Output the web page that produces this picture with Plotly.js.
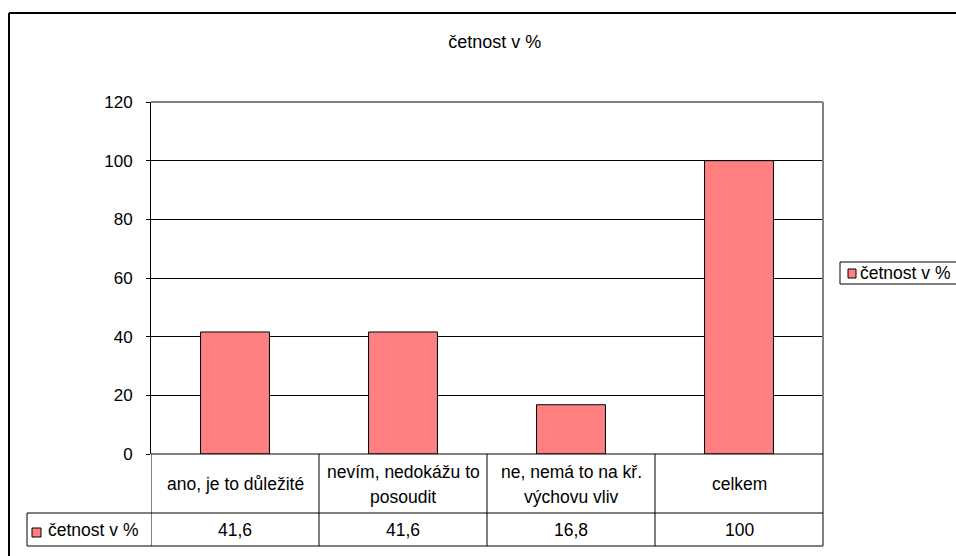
<!DOCTYPE html>
<html>
<head>
<meta charset="utf-8">
<script src="https://cdn.plot.ly/plotly-3.0.1.min.js"></script>
<style>html,body{margin:0;padding:0;background:#fff;}#chart{width:956px;height:556px;}</style>
</head>
<body>
<div id="chart"></div>
<script>
const chartTitle = "četnost v %";
const seriesName = "četnost v %";
const categories = ["ano, je to důležité", "nevím, nedokážu to<br>posoudit", "ne, nemá to na kř.<br>výchovu vliv", "celkem"];
const values = [41.6, 41.6, 16.8, 100];
const yTicks = [0, 20, 40, 60, 80, 100, 120];

const W = 956, H = 556;
const L = 151, R = 823, T = 102, B = 454;
const px = x => (x - L) / (R - L);
const py = y => (B - y) / (B - T);
const FONT = "Arial, 'Liberation Sans', sans-serif";
const barColor = "#FF8080";
const fmt = v => String(v).replace('.', ',');

const trace = {
  type: 'bar',
  x: categories,
  y: values,
  name: seriesName,
  marker: {color: barColor, line: {color: '#000', width: 1}},
  showlegend: false,
  hoverinfo: 'none'
};

const shapes = [];
const line = (x0, y0, x1, y1, color, width, xref) => shapes.push({
  type: 'line', xref: xref || 'paper', yref: 'paper', x0: x0, y0: y0, x1: x1, y1: y1,
  line: {color: color, width: width}, layer: 'above'
});
// plot area border
line(0, 1, 1, 1, '#808080', 2);
line(1, 1, 1, py(546), '#808080', 2);
// data table
line(0, 0, 1, 0, '#000', 1);
line(px(27), py(513), 1, py(513), '#000', 1);
line(px(27), py(546), 1, py(546), '#555', 1.5);
line(px(27), py(513), px(27), py(546), '#000', 1);
for (let i = 0; i < categories.length; i++) {
  line(i - 0.5, 0, i - 0.5, py(546), '#000', 1, 'x');
}
// key square in table
shapes.push({type: 'rect', xref: 'paper', yref: 'paper', x0: px(32), x1: px(41), y0: py(528), y1: py(537),
  fillcolor: barColor, line: {color: '#000', width: 1}, layer: 'above'});
// legend box
shapes.push({type: 'rect', xref: 'paper', yref: 'paper', x0: px(840), x1: px(990), y0: py(262), y1: py(284),
  fillcolor: '#fff', line: {color: '#000', width: 1}, layer: 'above'});
shapes.push({type: 'rect', xref: 'paper', yref: 'paper', x0: px(848), x1: px(856), y0: py(269), y1: py(278),
  fillcolor: barColor, line: {color: '#000', width: 1}, layer: 'above'});
// outer chart border
line(px(9), py(13), px(9), py(570), '#000', 2);
line(px(9), py(13), px(980), py(13), '#000', 2);

const annotations = [];
const tfont = {family: FONT, size: 17.5, color: '#000'};
categories.forEach((c, i) => {
  const parts = c.split('<br>');
  parts.forEach((t, k) => {
    annotations.push({x: c, xref: 'x', y: py(484 + (k - (parts.length - 1) / 2) * 25), yref: 'paper', text: t, showarrow: false,
      xanchor: 'center', yanchor: 'middle', align: 'center', font: tfont});
  });
  annotations.push({x: c, xref: 'x', y: py(530), yref: 'paper', text: fmt(values[i]), showarrow: false,
    xanchor: 'center', yanchor: 'middle', font: tfont});
});
annotations.push({x: px(46), xref: 'paper', y: py(530), yref: 'paper', text: seriesName, showarrow: false,
  xanchor: 'left', yanchor: 'middle', font: tfont});
annotations.push({x: px(858), xref: 'paper', y: py(273), yref: 'paper', text: seriesName, showarrow: false,
  xanchor: 'left', yanchor: 'middle', font: tfont});

const layout = {
  width: W, height: H,
  margin: {l: L, r: W - R, t: T, b: H - B, pad: 0},
  paper_bgcolor: '#fff', plot_bgcolor: '#fff',
  title: {text: chartTitle, font: {family: FONT, size: 18, color: '#000'},
    x: 489 / W, xanchor: 'center', xref: 'paper', y: 1 - 42 / H, yanchor: 'middle', yref: 'container'},
  font: {family: FONT, size: 17, color: '#000'},
  bargap: 0.59,
  xaxis: {range: [-0.5, 3.5], showticklabels: false, showgrid: false, zeroline: false, showline: false, ticks: '', fixedrange: true},
  yaxis: {range: [0, 120], tickvals: yTicks, ticktext: yTicks.map(String), ticks: 'outside', ticklen: 4, tickcolor: '#000', tickwidth: 1,
    showline: true, linecolor: '#000', linewidth: 1, showgrid: true, gridcolor: '#000', gridwidth: 1, zeroline: false,
    tickfont: {family: FONT, size: 17, color: '#000'}, ticklabelstandoff: 10, fixedrange: true},
  shapes: shapes,
  annotations: annotations,
  showlegend: false
};

Plotly.newPlot('chart', [trace], layout, {displayModeBar: false, staticPlot: true});
</script>
</body>
</html>
